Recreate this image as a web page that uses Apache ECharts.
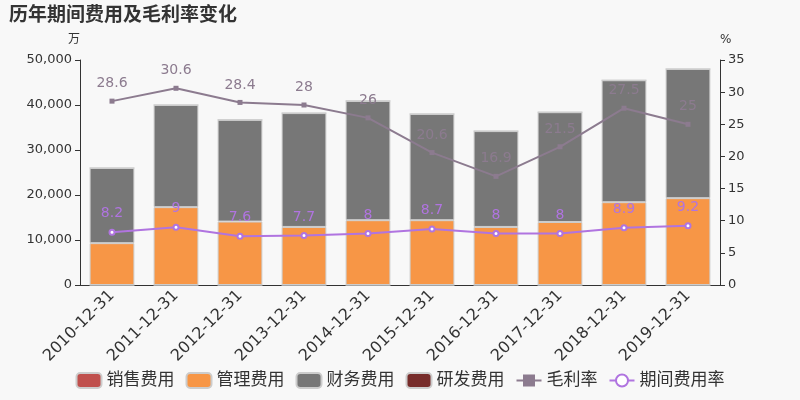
<!DOCTYPE html>
<html>
<head>
<meta charset="utf-8">
<script src="https://cdn.jsdelivr.net/npm/echarts@6/dist/echarts.min.js"></script>
<style>
  html, body { margin: 0; padding: 0; background: #f8f8f8; }
  #chart { width: 800px; height: 400px; }
</style>
</head>
<body>
<div id="chart"></div>
<script>
// 年份
var years = ['2010-12-31', '2011-12-31', '2012-12-31', '2013-12-31', '2014-12-31',
             '2015-12-31', '2016-12-31', '2017-12-31', '2018-12-31', '2019-12-31'];
// 费用（万）
var salesCost = [0, 0, 0, 0, 0, 0, 0, 0, 0, 0];
var manageCost = [9300, 17300, 14100, 12900, 14400, 14400, 12900, 14000, 18400, 19300];
var financeCost = [16700, 22700, 22600, 25300, 26500, 23600, 21300, 24400, 27100, 28700];
var rdCost = [0, 0, 0, 0, 0, 0, 0, 0, 0, 0];
// 比率（%）
var grossMargin = [28.6, 30.6, 28.4, 28, 26, 20.6, 16.9, 21.5, 27.5, 25];
var expenseRate = [8.2, 9, 7.6, 7.7, 8, 8.7, 8, 8, 8.9, 9.2];

var font = 'DejaVu Sans, "Noto Sans CJK SC", sans-serif';
var chart = echarts.init(document.getElementById('chart'));

function barSeries(name, data, color) {
  return {
    name: name,
    type: 'bar',
    stack: 'cost',
    barWidth: '70%',
    data: data,
    itemStyle: { color: color, borderColor: '#cccccc', borderWidth: 1 }
  };
}

var option = {
  backgroundColor: '#f8f8f8',
  textStyle: { fontFamily: font },
  title: {
    text: '历年期间费用及毛利率变化',
    left: 4,
    top: 2,
    textStyle: { fontSize: 19, fontWeight: 'bold', color: '#333', fontFamily: font }
  },
  legend: {
    bottom: 6,
    itemWidth: 25,
    itemHeight: 15,
    itemGap: 11,
    textStyle: { fontSize: 17, color: '#333' },
    data: ['销售费用', '管理费用', '财务费用', '研发费用', '毛利率', '期间费用率']
  },
  grid: { left: 80, right: 80, top: 60, bottom: 115 },
  xAxis: {
    type: 'category',
    data: years,
    axisLine: { lineStyle: { color: '#333' } },
    axisTick: { lineStyle: { color: '#333' } },
    axisLabel: { rotate: 45, fontSize: 16, color: '#333', interval: 0 }
  },
  yAxis: [
    {
      type: 'value',
      name: '万',
      min: 0, max: 50000, interval: 10000,
      nameGap: 14,
      nameTextStyle: { color: '#333', fontSize: 12, align: 'right' },
      axisLine: { show: true, lineStyle: { color: '#333' } },
      axisTick: { show: true },
      splitLine: { show: false },
      axisLabel: { fontSize: 13, color: '#333' }
    },
    {
      type: 'value',
      name: '%',
      min: 0, max: 35, interval: 5,
      nameGap: 14,
      nameTextStyle: { color: '#333', fontSize: 12, align: 'left' },
      axisLine: { show: true, lineStyle: { color: '#333' } },
      axisTick: { show: true },
      splitLine: { show: false },
      axisLabel: { fontSize: 13, color: '#333' }
    }
  ],
  series: [
    barSeries('销售费用', salesCost, '#c0504d'),
    barSeries('管理费用', manageCost, '#f79646'),
    barSeries('财务费用', financeCost, '#777777'),
    barSeries('研发费用', rdCost, '#772c2a'),
    {
      name: '毛利率',
      type: 'line',
      yAxisIndex: 1,
      data: grossMargin,
      symbol: 'rect',
      symbolSize: 5,
      lineStyle: { color: '#8c7b8f', width: 2 },
      itemStyle: { color: '#8c7b8f' },
      label: { show: true, position: 'top', distance: 8, fontSize: 14, color: '#8c7b8f' }
    },
    {
      name: '期间费用率',
      type: 'line',
      yAxisIndex: 1,
      data: expenseRate,
      symbol: 'emptyCircle',
      symbolSize: 5,
      lineStyle: { color: '#b074e0', width: 2 },
      itemStyle: { color: '#b074e0', borderColor: '#b074e0' },
      label: { show: true, position: 'top', distance: 8, fontSize: 14, color: '#b074e0' }
    }
  ]
};

chart.setOption(option);
</script>
</body>
</html>
